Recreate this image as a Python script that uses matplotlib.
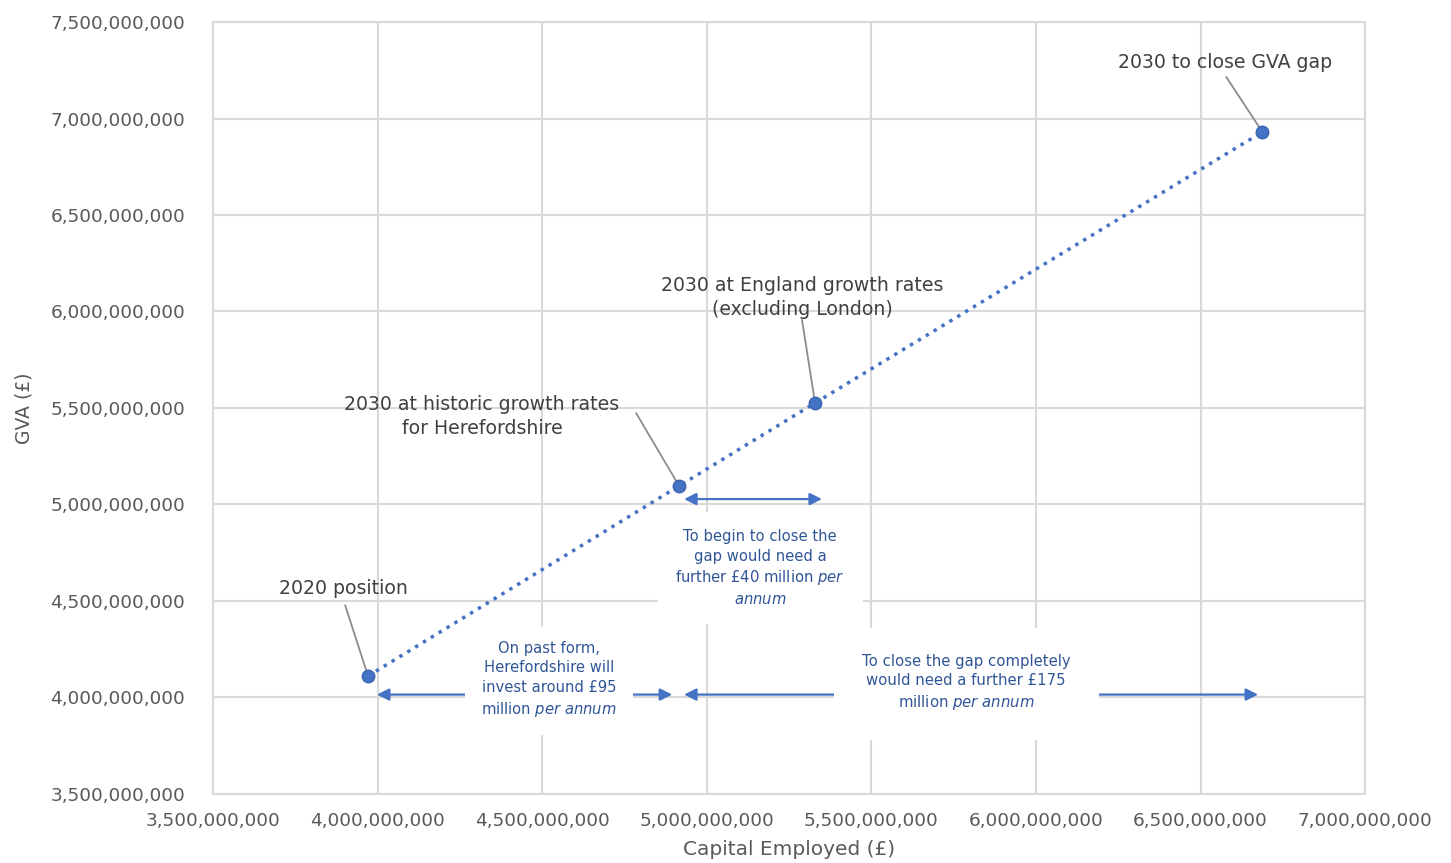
import matplotlib
matplotlib.use("Agg")
import matplotlib.pyplot as plt
from matplotlib.ticker import FuncFormatter, MultipleLocator

plt.rcParams['font.family'] = ['DejaVu Sans']
plt.rcParams['mathtext.fontset'] = 'dejavusans'

# Data (capital employed, GVA) in £
capital = [3.971e9, 4.916e9, 5.329e9, 6.688e9]
gva = [4.111e9, 5.096e9, 5.526e9, 6.930e9]
point_labels = ["2020 position",
                "2030 at historic growth rates\nfor Herefordshire",
                "2030 at England growth rates\n(excluding London)",
                "2030 to close GVA gap"]
# label offsets (points) relative to the point: (label centre, leader-line start)
label_offsets = [(-18, 63), (-142, 50), (-9, 76), (-27, 50)]
line_offsets = [(-16.5, 51), (-31, 52.5), (-9.4, 59.8), (-26, 39.6)]

xlim = (3.5e9, 7.0e9)
ylim = (3.5e9, 7.5e9)

BLUE = '#4472C4'
DARKBLUE = '#2F5597'
GRID = '#D9D9D9'
TICK = '#595959'
LABEL = '#404040'

fig = plt.figure(figsize=(14.51, 8.63), dpi=100)
ax = fig.add_axes([0.1468, 0.08, 0.794, 0.8945])
ax.set_xlim(*xlim)
ax.set_ylim(*ylim)
ax.xaxis.set_major_locator(MultipleLocator(5e8))
ax.yaxis.set_major_locator(MultipleLocator(5e8))
fmt = FuncFormatter(lambda v, p: f"{v:,.0f}")
ax.xaxis.set_major_formatter(fmt)
ax.yaxis.set_major_formatter(fmt)
ax.grid(True, color=GRID, linewidth=1.5)
ax.set_axisbelow(True)
for s in ax.spines.values():
    s.set_color(GRID)
    s.set_linewidth(1.5)
ax.tick_params(length=0, labelsize=13.3, labelcolor=TICK)
ax.tick_params(axis='y', pad=20)
ax.tick_params(axis='x', pad=13)
ax.set_xlabel("Capital Employed (£)", fontsize=14.5, color=TICK, labelpad=7)
ax.set_ylabel("GVA (£)", fontsize=13.5, color=TICK, labelpad=12)

ax.plot(capital, gva, linestyle=':', linewidth=2.5, color=BLUE, zorder=3)
ax.plot(capital, gva, linestyle='none', marker='o', markersize=9,
        color=BLUE, markeredgecolor='#3A65B0', zorder=4)

for x, y, lab, lo, so in zip(capital, gva, point_labels, label_offsets, line_offsets):
    ax.annotate("", xy=(x, y), xytext=so, textcoords='offset points',
                arrowprops=dict(arrowstyle='-', color='#8C8C8C', lw=1.3,
                                shrinkA=0, shrinkB=3), zorder=3)
    ax.annotate(lab, xy=(x, y), xytext=lo, textcoords='offset points',
                ha='center', va='center', fontsize=13.6, color=LABEL,
                linespacing=1.35, zorder=5)

# Investment arrows
arrow_y_low = 4.015e9
arrow_y_mid = 5.028e9
arrows = [
    (capital[0] + 0.027e9, 4.895e9, arrow_y_low),
    (4.931e9, 6.675e9, arrow_y_low),
    (4.931e9, 5.350e9, arrow_y_mid),
]
for x1, x2, y in arrows:
    ax.annotate("", xy=(x1, y), xytext=(x2, y),
                arrowprops=dict(arrowstyle='<|-|>', color=BLUE, lw=1.6,
                                mutation_scale=18, shrinkA=0, shrinkB=0),
                zorder=3)

box_texts = [
    (4.521e9, 4.091e9,
     "On past form,\nHerefordshire will\ninvest around £95\nmillion $\\mathit{per\\ annum}$", 1.1, 10.6),
    (5.162e9, 4.671e9,
     "To begin to close the\ngap would need a\nfurther £40 million $\\mathit{per}$\n$\\mathit{annum}$", 1.2, 10.6),
    (5.788e9, 4.075e9,
     "To close the gap completely\nwould need a further £175\nmillion $\\mathit{per\\ annum}$", 1.9, 10.7),
]
for x, y, t, pad, fs in box_texts:
    ax.text(x, y, t, ha='center', va='center', fontsize=fs, color=DARKBLUE,
            linespacing=1.35, zorder=6,
            bbox=dict(boxstyle=f'square,pad={pad}', facecolor='white',
                      edgecolor='none'))

fig.savefig("out.png", dpi=100)
